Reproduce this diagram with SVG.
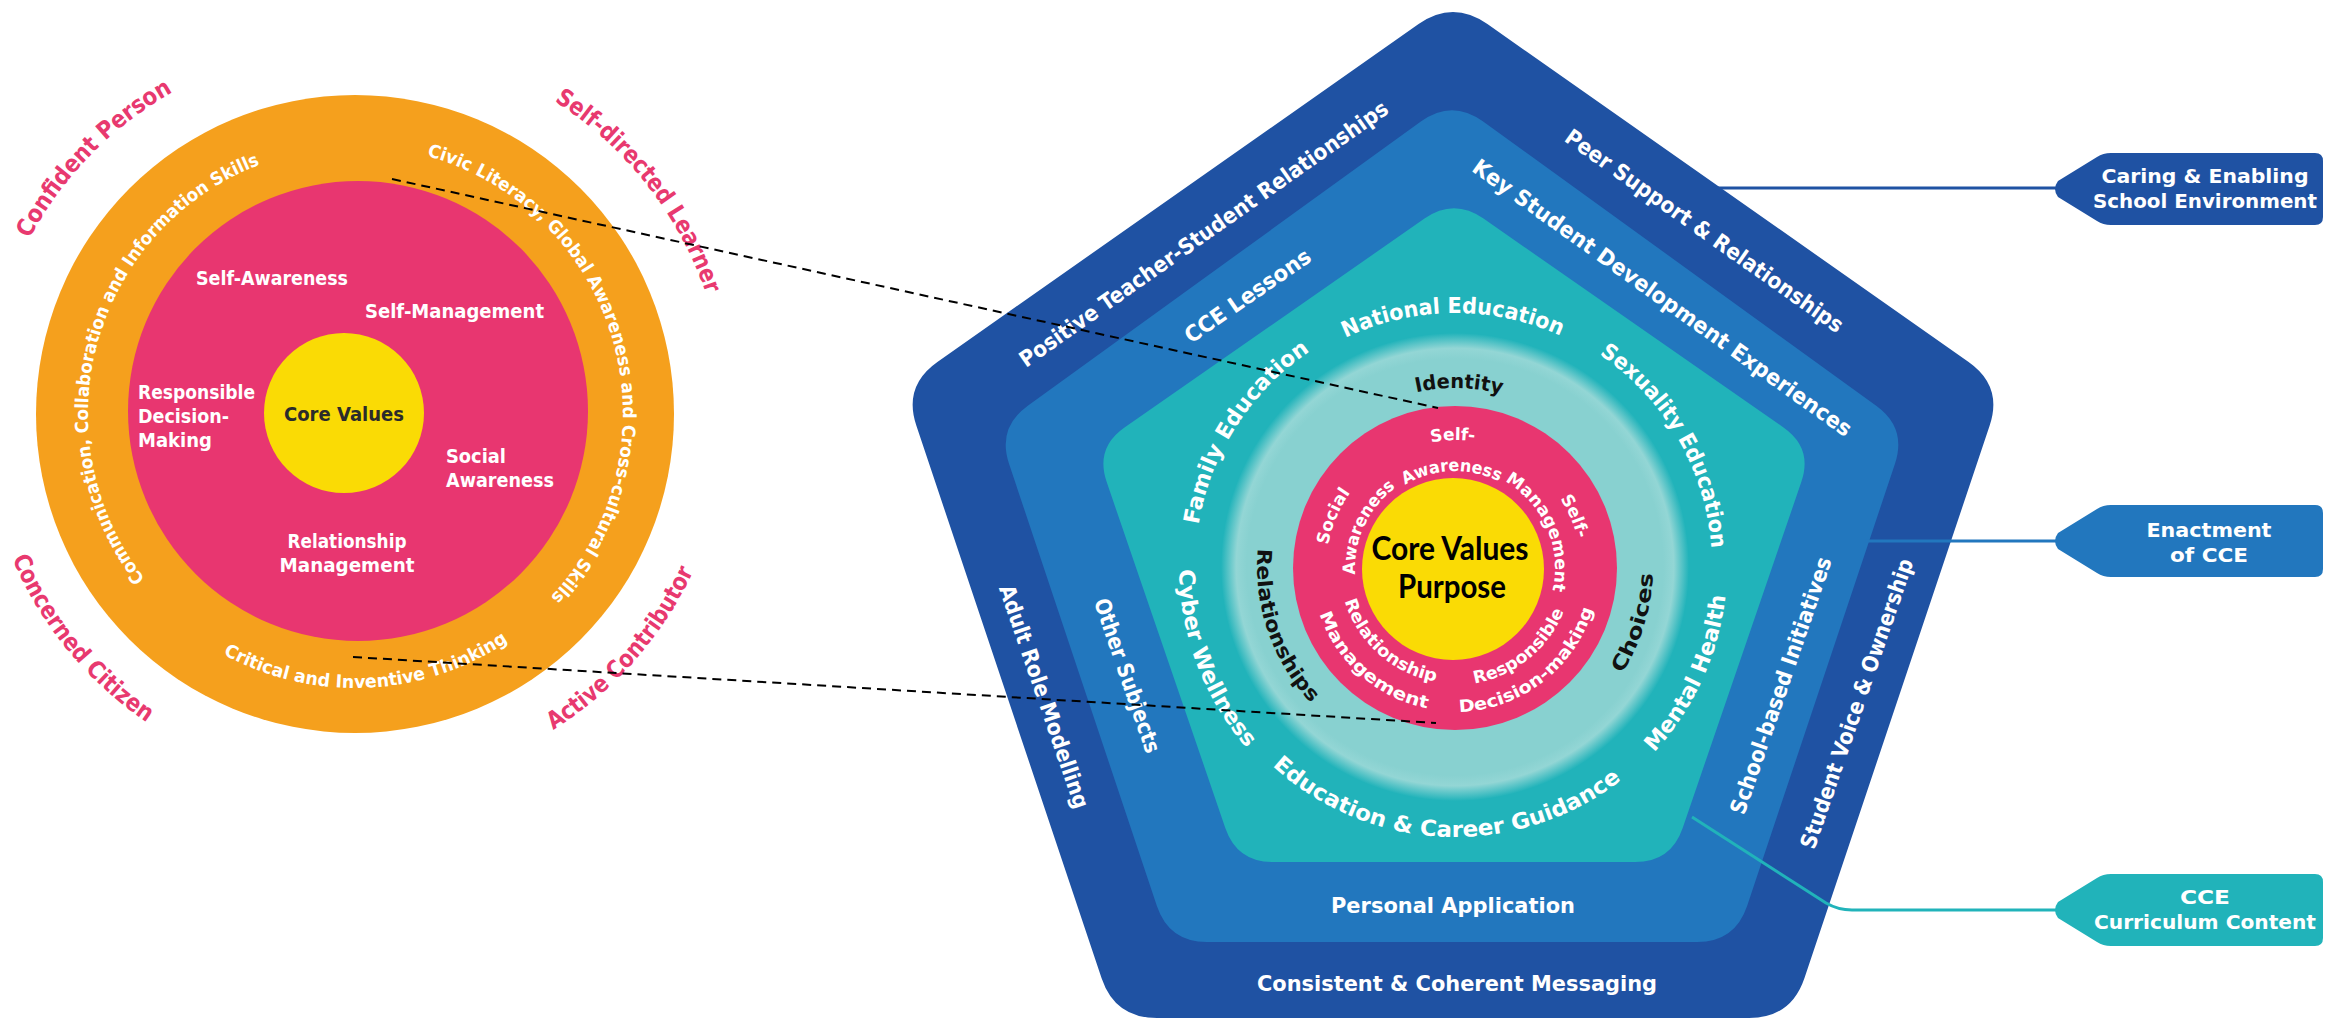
<svg xmlns="http://www.w3.org/2000/svg" xmlns:xlink="http://www.w3.org/1999/xlink" width="2326" height="1020" viewBox="0 0 2326 1020">
<defs>
<style>
.w{fill:#fff;font-family:"DejaVu Sans",sans-serif;font-weight:bold}
.blk{fill:#111;font-family:"DejaVu Sans",sans-serif;font-weight:bold;font-size:20px}
.pk{fill:#E8396F;font-family:"DejaVu Sans",sans-serif;font-weight:bold;font-size:24px}
.ring{font-size:18px}
.inner{font-size:19px}
.band{font-size:22px}
.small{font-size:17px}
.tag{font-size:20px}
.cv{fill:#000;font-family:Lato,"Liberation Sans",sans-serif;font-weight:bold;font-size:32px}
.dash{fill:none;stroke:#000;stroke-width:2;stroke-dasharray:9 6}
</style>
<radialGradient id="glow" gradientUnits="userSpaceOnUse" cx="1455" cy="567" r="234">
<stop offset="0.89" stop-color="#88D1D0"/>
<stop offset="0.935" stop-color="#93D6D5"/>
<stop offset="1" stop-color="#21B3BA"/>
</radialGradient>
<path id="tagShape" d="M 3,-8 L 42,-32 Q 48,-36 56,-36 L 260,-36 Q 268,-36 268,-28 L 268,28 Q 268,36 260,36 L 56,36 Q 48,36 42,32 L 3,8 Q -3,0 3,-8 Z"/>
<path id="pA" d="M 200.0,631.4 A 267 267 0 0 1 334.0,147.8"/>
<path id="pB" d="M 352.0,146.0 A 268 268 0 0 1 491.7,644.5"/>
<path id="pC" d="M 124.2,561.6 A 274 274 0 0 0 598.3,540.1"/>
<path id="pD" d="M -13.2,450.1 A 370 370 0 0 1 383.4,45.1"/>
<path id="pE" d="M 366.6,43.2 A 371 371 0 0 1 718.2,489.9"/>
<path id="pF" d="M -10.6,345.6 A 372 372 0 0 0 351.1,786.0"/>
<path id="pG" d="M 345.9,786.9 A 373 373 0 0 0 723.8,358.2"/>
<path id="pH" d="M 1233.9,441.9 A 254 254 0 0 1 1673.8,438.1"/>
<path id="pI" d="M 1223.9,686.1 A 260 260 0 0 1 1467.5,307.3"/>
<path id="pJ" d="M 1455,310 A 257 257 0 0 1 1677.6,695.5"/>
<path id="pK" d="M 1481.1,837.7 A 272 272 0 0 0 1676.4,409.1"/>
<path id="pL" d="M 1216.0,692.7 A 270 270 0 0 0 1683.3,711.1"/>
<path id="pM" d="M 1241.3,392.4 A 276 276 0 0 0 1410.6,839.4"/>
<path id="pN" d="M 1305.6,437.1 A 198 198 0 0 0 1417.2,761.4"/>
<path id="pO" d="M 1302.0,474.1 A 179 179 0 0 1 1611.9,480.9"/>
<path id="pP" d="M 1498.7,760.1 A 198 198 0 0 0 1600.4,432.6"/>
<path id="pQ" d="M 1343.1,505.9 A 128 128 0 0 1 1564.7,502.1"/>
<path id="pR" d="M 1369.4,522.5 A 97 97 0 0 1 1537.3,516.6"/>
<path id="pS" d="M 1466.3,468.6 A 100 100 0 0 1 1535.4,627.5"/>
<path id="pT" d="M 1469.3,442.8 A 126 126 0 0 1 1556.3,642.9"/>
<path id="pU" d="M 1352.0,645.6 A 129 129 0 0 1 1439.3,440.0"/>
<path id="pV" d="M 1373.1,625.4 A 100 100 0 0 1 1446.3,468.4"/>
<path id="pW" d="M 1342.3,545.1 A 115 115 0 0 0 1491.5,677.1"/>
<path id="pX" d="M 1314.7,540.1 A 143 143 0 0 0 1501.0,703.4"/>
<path id="pY" d="M 1413.1,677.2 A 117 117 0 0 0 1570.6,549.7"/>
<path id="pZ" d="M 1399.9,701.0 A 144 144 0 0 0 1597.8,549.2"/>
</defs>

<g id="left-circle">
<circle cx="355" cy="414" r="319" fill="#F5A01D"/>
<circle cx="358" cy="411" r="230" fill="#E83670"/>
<circle cx="344" cy="413" r="80" fill="#FADB05"/>
<text class="w inner" x="196" y="285" textLength="152" lengthAdjust="spacingAndGlyphs">Self-Awareness</text>
<text class="w inner" x="365" y="318" textLength="179" lengthAdjust="spacingAndGlyphs">Self-Management</text>
<text class="w inner" x="138" y="399" textLength="117" lengthAdjust="spacingAndGlyphs">Responsible</text>
<text class="w inner" x="138" y="423" textLength="91" lengthAdjust="spacingAndGlyphs">Decision-</text>
<text class="w inner" x="138" y="447" textLength="74" lengthAdjust="spacingAndGlyphs">Making</text>
<text class="w inner" x="284" y="421" textLength="120" lengthAdjust="spacingAndGlyphs" style="fill:#2b2b2b">Core Values</text>
<text class="w inner" x="446" y="463" textLength="60" lengthAdjust="spacingAndGlyphs">Social</text>
<text class="w inner" x="446" y="487" textLength="108" lengthAdjust="spacingAndGlyphs">Awareness</text>
<text class="w inner" x="347" y="548" text-anchor="middle" textLength="119" lengthAdjust="spacingAndGlyphs">Relationship</text>
<text class="w inner" x="347" y="572" text-anchor="middle" textLength="135" lengthAdjust="spacingAndGlyphs">Management</text>
<text class="w ring" text-anchor="middle"><textPath href="#pA" startOffset="50%" textLength="500" lengthAdjust="spacingAndGlyphs">Communication, Collaboration and Information Skills</textPath></text>
<text class="w ring" text-anchor="middle"><textPath href="#pB" startOffset="50%" textLength="550" lengthAdjust="spacingAndGlyphs">Civic Literacy, Global Awareness and Cross-cultural Skills</textPath></text>
<text class="w ring" text-anchor="middle"><textPath href="#pC" startOffset="50%" textLength="300" lengthAdjust="spacingAndGlyphs">Critical and Inventive Thinking</textPath></text>
<text class="pk" text-anchor="middle"><textPath href="#pD" startOffset="50%" textLength="208" lengthAdjust="spacingAndGlyphs">Confident Person</textPath></text>
<text class="pk" text-anchor="middle"><textPath href="#pE" startOffset="50%" textLength="250" lengthAdjust="spacingAndGlyphs">Self-directed Learner</textPath></text>
<text class="pk" text-anchor="middle"><textPath href="#pF" startOffset="50%" textLength="215" lengthAdjust="spacingAndGlyphs">Concerned Citizen</textPath></text>
<text class="pk" text-anchor="middle"><textPath href="#pG" startOffset="50%" textLength="215" lengthAdjust="spacingAndGlyphs">Active Contributor</textPath></text>
</g>

<g id="pentagon">
<path fill="#1F52A3" d="M 1418.6,24.1 Q 1453,0 1487.4,24.1 L 1968.6,361.9 Q 2003,386 1989.6,425.8 L 1804.4,978.2 Q 1791,1018 1749,1018 L 1157,1018 Q 1115,1018 1101.6,978.2 L 916.4,425.8 Q 903,386 937.4,361.9 Z"/>
<path fill="#2277BE" d="M 1421.2,121.3 Q 1452,99 1482.8,121.3 L 1876.2,405.7 Q 1907,428 1894.9,464 L 1747.1,906 Q 1735,942 1697,942 L 1207,942 Q 1169,942 1156.9,906 L 1009.1,464 Q 997,428 1027.8,405.7 Z"/>
<path fill="#21B3BA" d="M 1424.5,218.6 Q 1454,198 1483.5,218.6 L 1783.5,427.4 Q 1813,448 1801.3,482.1 L 1682.7,827.9 Q 1671,862 1635,862 L 1273,862 Q 1237,862 1225.3,827.9 L 1106.7,482.1 Q 1095,448 1124.5,427.4 Z"/>
<circle cx="1455" cy="567" r="234" fill="url(#glow)"/>
<circle cx="1455" cy="568" r="162" fill="#E83670"/>
<circle cx="1453" cy="569" r="91" fill="#FADB05"/>
<text class="cv" x="1450" y="560" text-anchor="middle" textLength="157" lengthAdjust="spacingAndGlyphs">Core Values</text>
<text class="cv" x="1452" y="598" text-anchor="middle" textLength="108" lengthAdjust="spacingAndGlyphs">Purpose</text>

<text class="w band" transform="translate(1208,240) rotate(-35.1)" text-anchor="middle" textLength="445" lengthAdjust="spacingAndGlyphs">Positive Teacher-Student Relationships</text>
<text class="w band" transform="translate(1700,237) rotate(35.2)" text-anchor="middle" textLength="335" lengthAdjust="spacingAndGlyphs">Peer Support &amp; Relationships</text>
<text class="w band" transform="translate(1252,302) rotate(-34.5)" text-anchor="middle" textLength="148" lengthAdjust="spacingAndGlyphs">CCE Lessons</text>
<text class="w band" transform="translate(1658,304) rotate(35.5)" text-anchor="middle" textLength="460" lengthAdjust="spacingAndGlyphs">Key Student Development Experiences</text>
<text class="w band" transform="translate(1037,699) rotate(71)" text-anchor="middle" textLength="235" lengthAdjust="spacingAndGlyphs">Adult Role Modelling</text>
<text class="w band" transform="translate(1120,678) rotate(71)" text-anchor="middle" textLength="162" lengthAdjust="spacingAndGlyphs">Other Subjects</text>
<text class="w band" transform="translate(1788,688) rotate(-71)" text-anchor="middle" textLength="270" lengthAdjust="spacingAndGlyphs">School-based Initiatives</text>
<text class="w band" transform="translate(1864,706) rotate(-71)" text-anchor="middle" textLength="305" lengthAdjust="spacingAndGlyphs">Student Voice &amp; Ownership</text>
<text class="w band" x="1453" y="913" text-anchor="middle" textLength="244" lengthAdjust="spacingAndGlyphs">Personal Application</text>
<text class="w band" x="1457" y="991" text-anchor="middle" textLength="400" lengthAdjust="spacingAndGlyphs">Consistent &amp; Coherent Messaging</text>

<text class="w band" text-anchor="middle"><textPath href="#pH" startOffset="50%" textLength="222" lengthAdjust="spacingAndGlyphs">National Education</textPath></text>
<text class="w band" text-anchor="middle"><textPath href="#pI" startOffset="50%" textLength="212" lengthAdjust="spacingAndGlyphs">Family Education</textPath></text>
<text class="w band" text-anchor="middle"><textPath href="#pJ" startOffset="50%" textLength="232" lengthAdjust="spacingAndGlyphs">Sexuality Education</textPath></text>
<text class="w band" text-anchor="middle"><textPath href="#pK" startOffset="50%" textLength="175" lengthAdjust="spacingAndGlyphs">Mental Health</textPath></text>
<text class="w band" text-anchor="middle"><textPath href="#pL" startOffset="50%" textLength="380" lengthAdjust="spacingAndGlyphs">Education &amp; Career Guidance</textPath></text>
<text class="w band" text-anchor="middle"><textPath href="#pM" startOffset="50%" textLength="195" lengthAdjust="spacingAndGlyphs">Cyber Wellness</textPath></text>

<text class="blk" text-anchor="middle"><textPath href="#pN" startOffset="50%" textLength="168" lengthAdjust="spacingAndGlyphs">Relationships</textPath></text>
<text class="blk" text-anchor="middle"><textPath href="#pO" startOffset="50%" textLength="86" lengthAdjust="spacingAndGlyphs">Identity</textPath></text>
<text class="blk" text-anchor="middle"><textPath href="#pP" startOffset="50%" textLength="106" lengthAdjust="spacingAndGlyphs">Choices</textPath></text>

<text class="w small" text-anchor="middle"><textPath href="#pQ" startOffset="50%">Self-</textPath></text>
<text class="w small" text-anchor="middle"><textPath href="#pR" startOffset="50%" textLength="98" lengthAdjust="spacingAndGlyphs">Awareness</textPath></text>
<text class="w small" text-anchor="middle"><textPath href="#pS" startOffset="50%" textLength="128" lengthAdjust="spacingAndGlyphs">Management</textPath></text>
<text class="w small" text-anchor="middle"><textPath href="#pT" startOffset="50%">Self-</textPath></text>
<text class="w small" text-anchor="middle"><textPath href="#pU" startOffset="50%">Social</textPath></text>
<text class="w small" text-anchor="middle"><textPath href="#pV" startOffset="50%" textLength="100" lengthAdjust="spacingAndGlyphs">Awareness</textPath></text>
<text class="w small" text-anchor="middle"><textPath href="#pW" startOffset="50%" textLength="128" lengthAdjust="spacingAndGlyphs">Relationship</textPath></text>
<text class="w small" text-anchor="middle"><textPath href="#pX" startOffset="50%" textLength="150" lengthAdjust="spacingAndGlyphs">Management</textPath></text>
<text class="w small" text-anchor="middle"><textPath href="#pY" startOffset="50%" textLength="120" lengthAdjust="spacingAndGlyphs">Responsible</textPath></text>
<text class="w small" text-anchor="middle"><textPath href="#pZ" startOffset="50%" textLength="180" lengthAdjust="spacingAndGlyphs">Decision-making</textPath></text>
</g>

<g id="tag-caring">
<use href="#tagShape" transform="translate(2055,189)" fill="#1F52A3"/>
<text class="w tag" x="2205" y="183" text-anchor="middle" textLength="207" lengthAdjust="spacingAndGlyphs">Caring &amp; Enabling</text>
<text class="w tag" x="2205" y="208" text-anchor="middle" textLength="224" lengthAdjust="spacingAndGlyphs">School Environment</text>
</g>
<g id="tag-enactment">
<use href="#tagShape" transform="translate(2055,541)" fill="#2277BE"/>
<text class="w tag" x="2209" y="537" text-anchor="middle" textLength="125" lengthAdjust="spacingAndGlyphs">Enactment</text>
<text class="w tag" x="2209" y="562" text-anchor="middle" textLength="78" lengthAdjust="spacingAndGlyphs">of CCE</text>
</g>
<g id="tag-curriculum">
<use href="#tagShape" transform="translate(2055,910)" fill="#21B3BA"/>
<text class="w tag" x="2205" y="904" text-anchor="middle" textLength="50" lengthAdjust="spacingAndGlyphs">CCE</text>
<text class="w tag" x="2205" y="929" text-anchor="middle" textLength="222" lengthAdjust="spacingAndGlyphs">Curriculum Content</text>
</g>

<g id="connectors">
<line x1="1713" y1="188" x2="2058" y2="188" stroke="#1F52A3" stroke-width="3"/>
<line x1="1865" y1="541" x2="2058" y2="541" stroke="#2277BE" stroke-width="3"/>
<path d="M 1692,817 L 1826,903 Q 1838,910 1852,910 L 2058,910" fill="none" stroke="#21B3BA" stroke-width="3"/>
<line class="dash" x1="392" y1="179" x2="1438" y2="408"/>
<line class="dash" x1="353" y1="657" x2="1436" y2="723"/>
</g>
</svg>
